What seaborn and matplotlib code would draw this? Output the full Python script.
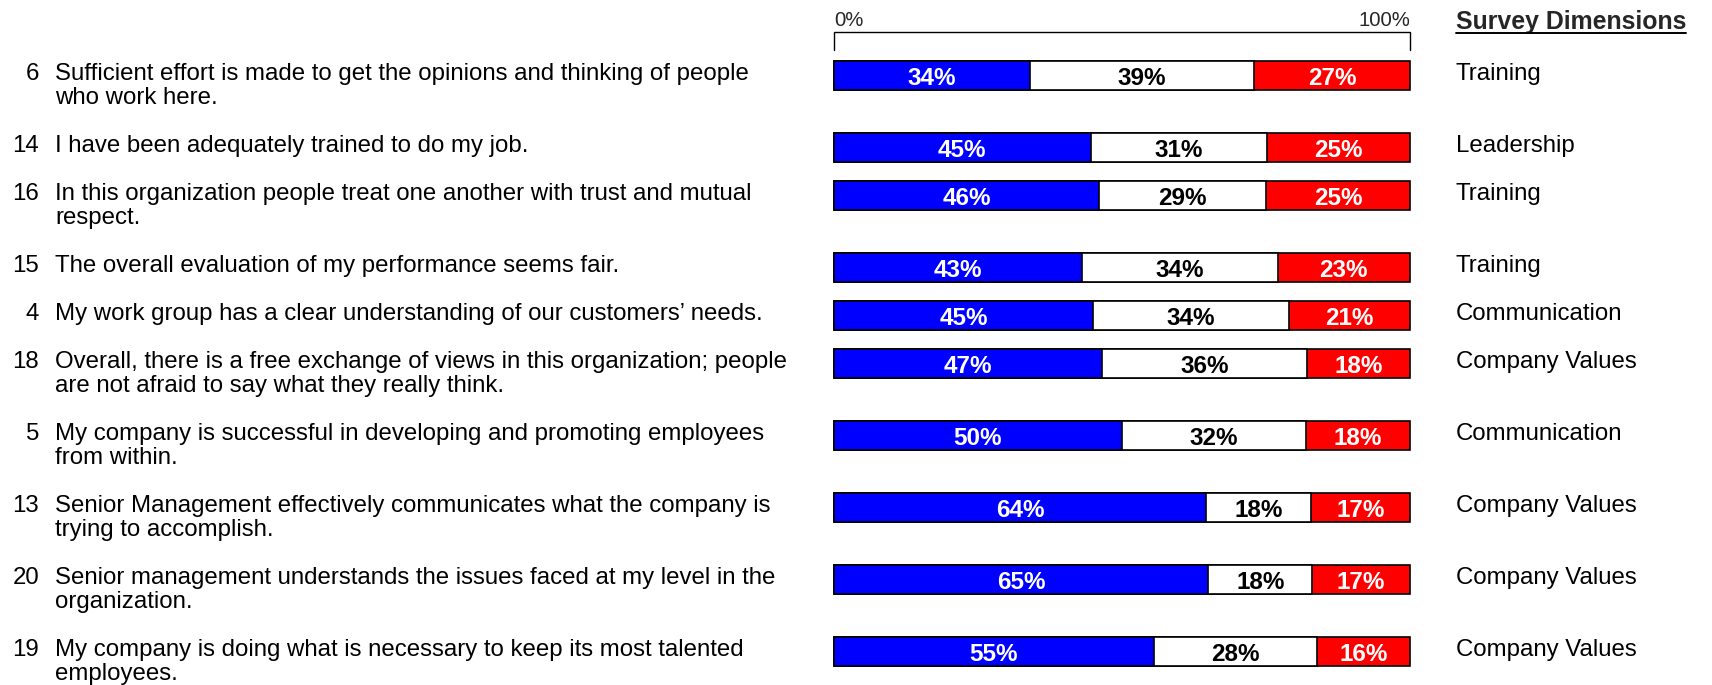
import matplotlib
matplotlib.use("Agg")
import matplotlib.pyplot as plt
from matplotlib.lines import Line2D
import seaborn as sns
import numpy as np
import pandas as pd

# ---- data ----
item_ids = ["6", "14", "16", "15", "4", "18", "5", "13", "20", "19"]
questions = [
    "Sufficient effort is made to get the opinions and thinking of people\nwho work here.",
    "I have been adequately trained to do my job.",
    "In this organization people treat one another with trust and mutual\nrespect.",
    "The overall evaluation of my performance seems fair.",
    "My work group has a clear understanding of our customers\u2019 needs.",
    "Overall, there is a free exchange of views in this organization; people\nare not afraid to say what they really think.",
    "My company is successful in developing and promoting employees\nfrom within.",
    "Senior Management effectively communicates what the company is\ntrying to accomplish.",
    "Senior management understands the issues faced at my level in the\norganization.",
    "My company is doing what is necessary to keep its most talented\nemployees.",
]
favorable = [34, 45, 46, 43, 45, 47, 50, 64, 65, 55]
neutral = [39, 31, 29, 34, 34, 36, 32, 18, 18, 28]
unfavorable = [27, 25, 25, 23, 21, 18, 18, 17, 17, 16]
dimensions = ["Training", "Leadership", "Training", "Training", "Communication",
              "Company Values", "Communication", "Company Values",
              "Company Values", "Company Values"]
axis_labels = ["0%", "100%"]
header = "Survey Dimensions"

# ---- style ----
sns.set_style("white")
plt.rcParams["font.family"] = ["Liberation Sans", "DejaVu Sans"]

W, H = 1712, 685
fig = plt.figure(figsize=(W / 100, H / 100), dpi=100)
ax = fig.add_axes([0, 0, 1, 1])

# row positions derived from number of label lines
nlines = [q.count("\n") + 1 for q in questions]
pos = [0]
for n in nlines[:-1]:
    pos.append(pos[-1] + 1 + n)

fav = np.array(favorable, float)
neu = np.array(neutral, float)
unf = np.array(unfavorable, float)
tot = fav + neu + unf
c1 = fav / tot
c2 = (fav + neu) / tot
c3 = np.ones_like(tot)

df = pd.DataFrame({"pos": pos, "c1": c1, "c2": c2, "c3": c3})

bar_w = 0.615
lw = 1.2
for col, color in [("c3", "#FF0000"), ("c2", "#FFFFFF"), ("c1", "#0000FF")]:
    sns.barplot(data=df, x=col, y="pos", orient="h", native_scale=True,
                color=color, saturation=1, edgecolor="black", linewidth=lw,
                width=bar_w, errorbar=None, ax=ax)

# pixel mapping: x 0..1 -> 834..1410 px ; row unit = 24 px, row 0 at 75.7 px
x0_px, x1_px = 834, 1410
span = x1_px - x0_px
ax.set_xlim(-x0_px / span, (W - x0_px) / span)
unit = 24.0
top_px = 75.7
ax.set_ylim((H - top_px) / unit, -top_px / unit)
ax.axis("off")

fs = 17.25
yt = ax.get_yaxis_transform()

# segment labels
for i in range(len(pos)):
    segs = [(0, c1[i], favorable[i], "white"),
            (c1[i], c2[i], neutral[i], "black"),
            (c2[i], 1.0, unfavorable[i], "white")]
    for a, b, v, tc in segs:
        ax.text((a + b) / 2, pos[i] + 0.37, f"{v}%", ha="center", va="baseline",
                color=tc, fontsize=17.5, fontweight="bold")

# row labels
for i in range(len(pos)):
    base = pos[i] + 0.19
    ax.text(39 / W, base, item_ids[i], transform=yt, ha="right", va="baseline",
            fontsize=fs, color="black")
    for j, line in enumerate(questions[i].split("\n")):
        ax.text(55 / W, base + j * 1.0, line, transform=yt, ha="left",
                va="baseline", fontsize=fs, color="black")
    ax.text(1456 / W, base, dimensions[i], transform=yt, ha="left",
            va="baseline", fontsize=fs, color="black")

# scale bracket
yb_top = (32.0 - top_px) / unit
yb_bot = (50 - top_px) / unit
ax.plot([0, 0, 1, 1], [yb_bot, yb_top, yb_top, yb_bot], color="black",
        lw=1.0, solid_joinstyle="miter", clip_on=False)
ybase = (26.5 - top_px) / unit
ax.text(0, ybase, axis_labels[0], ha="left", va="baseline", fontsize=14.6)
ax.text(1, ybase, axis_labels[1], ha="right", va="baseline", fontsize=14.6)

# header with underline
ht = ax.text(1456 / W, (29.5 - top_px) / unit, header, transform=yt, ha="left",
             va="baseline", fontsize=17.9, fontweight="bold")
fig.canvas.draw()
bb = ht.get_window_extent(fig.canvas.get_renderer())
uy = (H - 33.0) / H
fig.add_artist(Line2D([bb.x0 / W, bb.x1 / W], [uy, uy], color="black", lw=1.4,
                      transform=fig.transFigure))

fig.savefig("out.png", dpi=100)
